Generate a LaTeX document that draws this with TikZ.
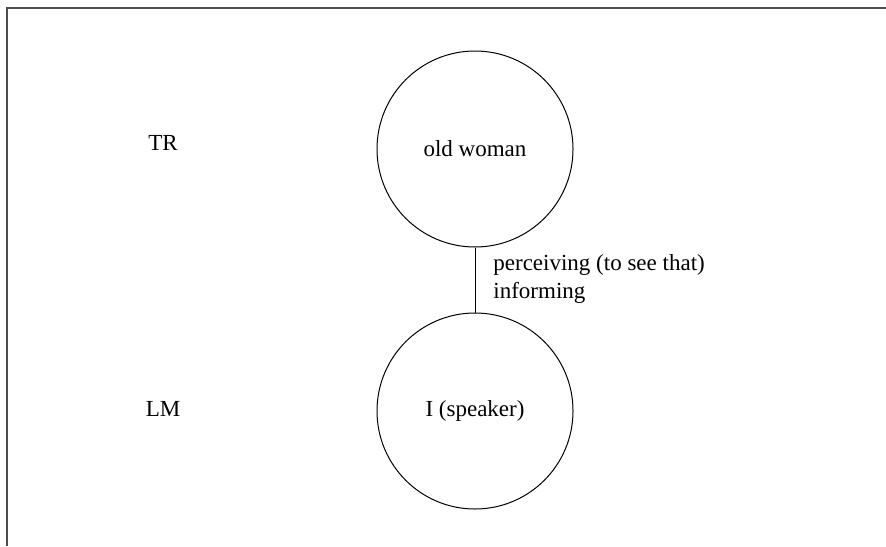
\documentclass[tikz,border=0pt]{standalone}
\usepackage{fontspec}
\setmainfont{Liberation Serif}
\usetikzlibrary{positioning}
\begin{document}
\begin{tikzpicture}[x=0.5pt,y=-0.5pt,node distance=32.5pt,every node/.style={font=\fontsize{11.5}{14}\selectfont},role/.style={draw,circle,line width=0.5pt,minimum size=98pt,inner sep=0pt}]
\useasboundingbox (0,0) rectangle (886,546);
\draw[line width=1pt,black!70] (886,7.5) -- (6.5,7.5) -- (6.5,546);
\node[role](woman) at (475,149){old woman};
\node[role,below=of woman](speaker){I (speaker)};
\node(tr) at (163,143){TR};
\node(lm) at (163,409){LM};
\draw[line width=0.5pt](woman)--(speaker);
\node[anchor=west,align=left,inner sep=0pt] (rel) at (493,279){perceiving (to see that)\\informing};
\end{tikzpicture}
\end{document}
